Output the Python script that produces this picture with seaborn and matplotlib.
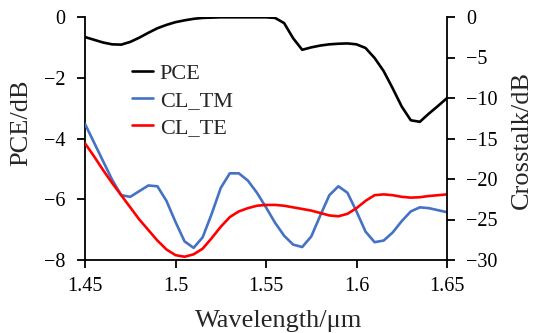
import matplotlib
matplotlib.use("Agg")
import matplotlib.pyplot as plt
import seaborn as sns
import pandas as pd

wavelength = [1.450, 1.455, 1.460, 1.465, 1.470, 1.475, 1.480, 1.485, 1.490, 1.495,
              1.500, 1.505, 1.510, 1.515, 1.520, 1.525, 1.530, 1.535, 1.540, 1.545,
              1.550, 1.555, 1.560, 1.565, 1.570, 1.575, 1.580, 1.585, 1.590, 1.595,
              1.600, 1.605, 1.610, 1.615, 1.620, 1.625, 1.630, 1.635, 1.640, 1.645, 1.650]

pce = [-0.66, -0.75, -0.84, -0.90, -0.91, -0.82, -0.68, -0.52, -0.37, -0.26,
       -0.17, -0.11, -0.06, -0.03, -0.02, -0.01, -0.01, -0.01, -0.01, -0.01,
       -0.01, -0.03, -0.20, -0.70, -1.08, -1.00, -0.94, -0.90, -0.88, -0.87,
       -0.90, -1.02, -1.35, -1.78, -2.35, -2.95, -3.40, -3.45, -3.18, -2.93, -2.67]

cl_tm = [-13.2, -15.5, -17.8, -20.1, -22.0, -22.2, -21.5, -20.8, -20.9, -22.7,
         -25.3, -27.7, -28.5, -27.2, -24.3, -21.1, -19.3, -19.3, -20.2, -21.7,
         -23.5, -25.4, -27.0, -28.1, -28.4, -27.1, -24.5, -22.0, -20.9, -21.7,
         -24.0, -26.5, -27.8, -27.6, -26.6, -25.2, -24.0, -23.5, -23.6, -23.85, -24.1]

cl_te = [-15.6, -17.2, -18.9, -20.5, -22.0, -23.5, -25.0, -26.3, -27.6, -28.7,
         -29.4, -29.6, -29.3, -28.6, -27.3, -25.9, -24.7, -24.0, -23.6, -23.3,
         -23.2, -23.2, -23.3, -23.5, -23.7, -23.9, -24.2, -24.5, -24.6, -24.3,
         -23.6, -22.7, -22.0, -21.9, -22.0, -22.2, -22.3, -22.25, -22.1, -22.0, -21.9]

x_ticks = [1.45, 1.5, 1.55, 1.6, 1.65]
x_tick_labels = ["1.45", "1.5", "1.55", "1.6", "1.65"]
left_ticks = [0, -2, -4, -6, -8]
right_ticks = [0, -5, -10, -15, -20, -25, -30]

df = pd.DataFrame({"wl": wavelength, "PCE": pce, "CL_TM": cl_tm, "CL_TE": cl_te})

sns.set_style("ticks")
plt.rcParams["font.family"] = ["Liberation Serif", "DejaVu Serif"]

fig = plt.figure(figsize=(5.34, 3.33), dpi=100)
ax = fig.add_axes([85 / 534, 73 / 333, 362 / 534, 243 / 333])
ax2 = ax.twinx()

sns.lineplot(data=df, x="wl", y="PCE", ax=ax, color="black", linewidth=1.9, label="PCE", legend=False)
sns.lineplot(data=df, x="wl", y="CL_TM", ax=ax2, color="#4472C4", linewidth=1.9, label="CL_TM", legend=False)
sns.lineplot(data=df, x="wl", y="CL_TE", ax=ax2, color="#FF0000", linewidth=1.9, label="CL_TE", legend=False)

ax.set_xlim(1.45, 1.65)
ax.set_ylim(-8, 0)
ax2.set_ylim(-30, 0)
ax.set_xticks(x_ticks)
ax.set_xticklabels(x_tick_labels)
ax.set_yticks(left_ticks)
ax.set_yticklabels(["\u2212" + str(-v) if v < 0 else str(v) for v in left_ticks])
ax2.set_yticks(right_ticks)
ax2.set_yticklabels(["\u2212" + str(-v) if v < 0 else str(v) for v in right_ticks])

fs = 14.5
for a in (ax, ax2):
    a.tick_params(axis="both", which="major", labelsize=fs, length=5.5, width=1.3,
                  direction="out", colors="black", pad=8.5)
    for s in a.spines.values():
        s.set_linewidth(1.3)
        s.set_color("black")
    a.spines["top"].set_visible(False)
ax.tick_params(axis="x", pad=7)
ax.spines["right"].set_visible(False)
ax2.spines["left"].set_visible(False)
ax2.spines["bottom"].set_visible(False)

lfs = 19
ax.set_xlabel("Wavelength/μm", fontsize=lfs)
ax.set_ylabel("PCE/dB", fontsize=lfs)
ax2.set_ylabel("Crosstalk/dB", fontsize=lfs)
for lab in (ax.xaxis.label, ax.yaxis.label, ax2.yaxis.label):
    lab.set_va("center")
    lab.set_ha("center")
ax.xaxis.set_label_coords(0.536, -0.251)
ax.yaxis.set_label_coords(-0.177, 0.566)
ax2.yaxis.set_label_coords(1.207, 0.494)

h1, l1 = ax.get_legend_handles_labels()
h2, l2 = ax2.get_legend_handles_labels()
ax2.legend(h1 + h2, l1 + l2, loc="upper left", bbox_to_anchor=(0.13, 0.808), frameon=False,
           fontsize=16, handlelength=0.95, handletextpad=0.3, labelspacing=0.29,
           borderaxespad=0, borderpad=0)

fig.savefig("out.png", dpi=100)
